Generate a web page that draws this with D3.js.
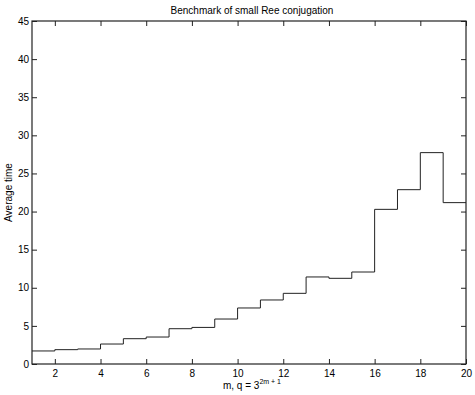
<!DOCTYPE html>
<html>
<head>
<meta charset="utf-8">
<script src="https://cdn.jsdelivr.net/npm/d3@7"></script>
<style>
  body { margin: 0; background: #fff; }
  text { font-family: "Liberation Sans", Arial, sans-serif; font-size: 10px; fill: #000; }
</style>
</head>
<body>
<svg id="chart" width="475" height="395"></svg>
<script>
// m values and average time (s)
const mValues = [1, 2, 3, 4, 5, 6, 7, 8, 9, 10, 11, 12, 13, 14, 15, 16, 17, 18, 19];
const avgTime = [1.71, 1.88, 1.97, 2.62, 3.32, 3.54, 4.63, 4.8, 5.9, 7.35, 8.4, 9.27, 11.42, 11.24, 12.07, 20.29, 22.87, 27.73, 21.17];
const xTicks = [2, 4, 6, 8, 10, 12, 14, 16, 18, 20];
const yTicks = [0, 5, 10, 15, 20, 25, 30, 35, 40, 45];

const margin = {top: 21, right: 9, bottom: 31, left: 32};
const width = 475 - margin.left - margin.right;
const height = 395 - margin.top - margin.bottom;

const svg = d3.select("#chart")
  .append("g")
  .attr("transform", `translate(${margin.left},${margin.top})`);

const x = d3.scaleLinear().domain([1, 20]).range([0, width]);
const y = d3.scaleLinear().domain([0, 45]).range([height, 0]);

// matlab style: ticks point inward, box on all four sides
const tick = 5;
svg.append("g")
  .attr("transform", `translate(0,${height})`)
  .call(d3.axisBottom(x).tickValues(xTicks).tickSizeInner(-tick).tickSizeOuter(0).tickPadding(6))
  .call(g => g.select(".domain").remove());
svg.append("g")
  .call(d3.axisTop(x).tickValues(xTicks).tickSizeInner(-tick).tickSizeOuter(0).tickFormat(""))
  .call(g => g.select(".domain").remove());
svg.append("g")
  .call(d3.axisLeft(y).tickValues(yTicks).tickSizeInner(-tick).tickSizeOuter(0).tickPadding(3))
  .call(g => g.select(".domain").remove());
svg.append("g")
  .attr("transform", `translate(${width},0)`)
  .call(d3.axisRight(y).tickValues(yTicks).tickSizeInner(-tick).tickSizeOuter(0).tickFormat(""))
  .call(g => g.select(".domain").remove());

svg.selectAll(".tick line").attr("stroke", "#222");
svg.selectAll(".tick text").style("font-size", "10px").attr("fill", "#000");

svg.append("rect")
  .attr("width", width)
  .attr("height", height)
  .attr("fill", "none")
  .attr("stroke", "#222")
  .attr("stroke-width", 1.2);

// stairs: each value holds until next m, last one runs to m = 20
const pts = mValues.map((m, i) => [m, avgTime[i]]);
pts.push([20, avgTime[avgTime.length - 1]]);

svg.append("path")
  .datum(pts)
  .attr("fill", "none")
  .attr("stroke", "#222")
  .attr("stroke-width", 1)
  .attr("d", d3.line().curve(d3.curveStepAfter).x(d => x(d[0])).y(d => y(d[1])));

svg.append("text")
  .attr("x", width / 2 + 3)
  .attr("y", -7)
  .attr("text-anchor", "middle")
  .text("Benchmark of small Ree conjugation");

const xl = svg.append("text")
  .attr("x", width / 2 + 3)
  .attr("y", height + 25)
  .attr("text-anchor", "middle");
xl.append("tspan").text("m, q = 3");
xl.append("tspan").attr("dy", -5).style("font-size", "7px").text("2m + 1");

svg.append("text")
  .attr("transform", `translate(${-20},${height / 2}) rotate(-90)`)
  .attr("text-anchor", "middle")
  .text("Average time");
</script>
</body>
</html>
